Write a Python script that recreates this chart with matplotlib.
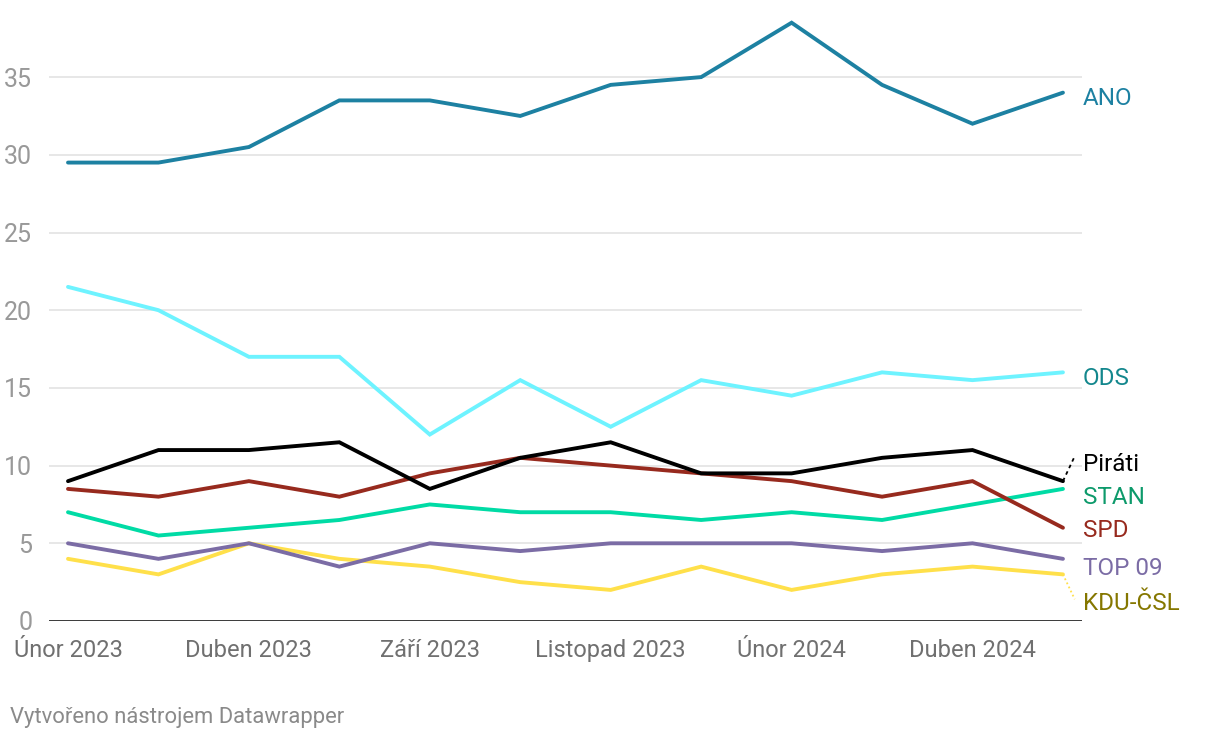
import matplotlib
matplotlib.use("Agg")
import matplotlib.pyplot as plt

plt.rcParams['font.family'] = ['Roboto', 'DejaVu Sans']

x_labels = ["Únor 2023", "Duben 2023", "Září 2023", "Listopad 2023", "Únor 2024", "Duben 2024"]
n_points = 12

ano = [29.5, 29.5, 30.5, 33.5, 33.5, 32.5, 34.5, 35, 38.5, 34.5, 32, 34]
ods = [21.5, 20, 17, 17, 12, 15.5, 12.5, 15.5, 14.5, 16, 15.5, 16]
pirati = [9, 11, 11, 11.5, 8.5, 10.5, 11.5, 9.5, 9.5, 10.5, 11, 9]
spd = [8.5, 8, 9, 8, 9.5, 10.5, 10, 9.5, 9, 8, 9, 6]
stan = [7, 5.5, 6, 6.5, 7.5, 7, 7, 6.5, 7, 6.5, 7.5, 8.5]
top09 = [5, 4, 5, 3.5, 5, 4.5, 5, 5, 5, 4.5, 5, 4]
kdu = [4, 3, 5, 4, 3.5, 2.5, 2, 3.5, 2, 3, 3.5, 3]

series = [
    ("KDU-ČSL", kdu, "#ffe04a", "#857700", 1.1),
    ("TOP 09", top09, "#7b6ca5", "#7b6ca5", 3.4),
    ("STAN", stan, "#00dba5", "#0d9a6b", 7.95),
    ("SPD", spd, "#972a1e", "#972a1e", 5.8),
    ("ODS", ods, "#6ef3ff", "#13878d", 15.6),
    ("Piráti", pirati, "#000000", "#000000", 10.1),
    ("ANO", ano, "#1d81a2", "#1d81a2", 33.6),
]

fig = plt.figure(figsize=(12.2, 7.4), dpi=100)
ax = fig.add_axes([49/1220, 1-621/740, (1082-49)/1220, (621-20)/740])

xs = list(range(n_points))
for name, vals, lc, tc, ly in series:
    ax.plot(xs, vals, color=lc, lw=2.8, solid_capstyle='round', solid_joinstyle='miter', zorder=3)
    ax.text(11.22, ly, name, color=tc, fontsize=17.5, va='center', ha='left',
            transform=ax.transData, clip_on=False)
    if abs(ly - vals[-1]) > 0.9:
        ls = (0, (2, 2)) if name == "Piráti" else (0, (1, 1.5))
        end = ly + 0.5 if ly > vals[-1] else ly + 0.3
        ax.plot([11, 11.13], [vals[-1], end],
                color=lc, lw=1.3, ls=ls, clip_on=False, zorder=3)

ax.set_xlim((49-68)/90.45, (1082-68)/90.45)
ax.set_ylim(0, (621-20)/15.54)

yt = [0, 5, 10, 15, 20, 25, 30, 35]
for v in yt[1:]:
    ax.axhline(v, color="#e3e3e3", lw=1.2, zorder=1)
ax.axhline(0, color="#000000", lw=1.8, zorder=4)
ax.set_yticks(yt)
ax.set_yticklabels([str(v) for v in yt])
ax.tick_params(axis='y', length=0, pad=12, labelsize=18, labelcolor="#999999")
ax.set_xticks(list(range(0, n_points, 2)))
ax.set_xticklabels(x_labels)
ax.tick_params(axis='x', length=0, pad=13, labelsize=17, labelcolor="#707070")
for s in ax.spines.values():
    s.set_visible(False)

fig.text(10/1220, 1-717/740, "Vytvořeno nástrojem Datawrapper", fontsize=15.8,
         color="#8a8a8a", va='center', ha='left')

fig.savefig("out.png", dpi=100)
